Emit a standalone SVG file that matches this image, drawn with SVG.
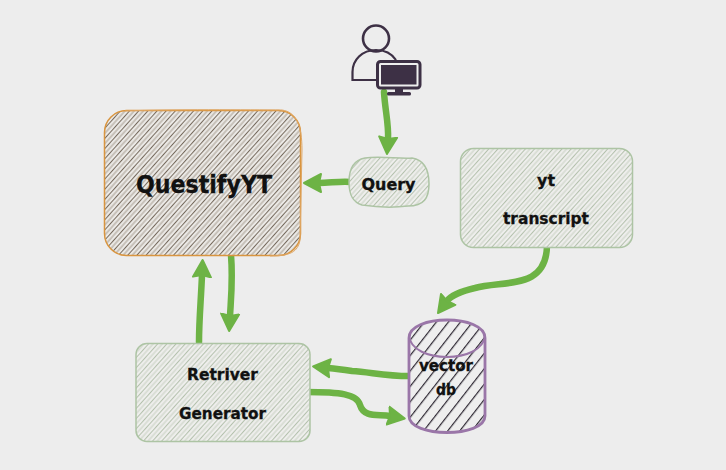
<svg xmlns="http://www.w3.org/2000/svg" width="726" height="470" viewBox="0 0 726 470">
<style>
.lbl{font-family:"DejaVu Sans","Liberation Sans",sans-serif;font-weight:700;fill:#111111;stroke:#111111;stroke-width:0.3;text-anchor:middle}
.conn{fill:none;stroke:#6db345;stroke-width:6.500;stroke-linecap:round;stroke-linejoin:round;marker-end:url(#head)}
.green{stroke:#adc4a4;stroke-width:1.500}
.ink{fill:#3d3045}
</style>
<defs>
<marker id="head" viewBox="0 0 19 22" refX="3" refY="11" markerWidth="19" markerHeight="22" markerUnits="userSpaceOnUse" orient="auto">
<path d="M1 2 L18 11 L1 20 L3 11Z" fill="#6db345" stroke="#6db345" stroke-width="2" stroke-linejoin="round"/>
</marker>
<pattern id="hBrown" width="3.400" height="6.800" patternUnits="userSpaceOnUse" patternTransform="rotate(-48)">
<rect width="3.400" height="6.800" fill="#ebe9e6"/>
<rect y="0" width="3.400" height="1" fill="#75695c"/>
<rect y="3.400" width="3.400" height="1" fill="#a79d90"/>
</pattern>
<pattern id="hGreen" width="3.400" height="6.800" patternUnits="userSpaceOnUse" patternTransform="rotate(-48)">
<rect width="3.400" height="6.800" fill="#eeeeec"/>
<rect y="0" width="3.400" height="1" fill="#b4c1ad"/>
<rect y="3.400" width="3.400" height="1" fill="#c8d1c2"/>
</pattern>
<pattern id="hDark" width="9.500" height="9.500" patternUnits="userSpaceOnUse" patternTransform="rotate(-52)">
<rect width="9.500" height="9.500" fill="#eeeeee"/>
<rect y="0" width="9.500" height="1.200" fill="#2e2833"/>
</pattern>
</defs>
<rect width="726" height="470" fill="#ededed"/>

<g id="connectors">
<path class="conn" d="M384 92 C385 110 389 125 388 139"/>
<path class="conn" d="M351 182 C340 181 330 183 319 183"/>
<path class="conn" d="M199 342 C199 320 201 300 202 275"/>
<path class="conn" d="M231 255 C233 280 231 298 230 316"/>
<path class="conn" d="M547 246 C546 290 505 280 475 288 C458 292 450 297 447 301"/>
<path class="conn" d="M409 376 C385 376 370 372 352 371 C345 370 338 369 328 368"/>
<path class="conn" d="M306 392 C340 392 357 394 360 405 C364 418 378 414 390 416"/>
</g>

<g id="user">
<circle cx="376" cy="38.500" r="13" fill="none" stroke="#3d3045" stroke-width="2.600"/>
<path d="M377 80 H352.500 V72 C352.500 60 362 50 376 50 C385 50 392 54 396 60" fill="none" stroke="#3d3045" stroke-width="2.200"/>
<rect x="377.500" y="61.500" width="42.500" height="26.500" rx="3" fill="#eeeeee" stroke="#3d3045" stroke-width="3"/>
<rect class="ink" x="381" y="65" width="35.500" height="19.500"/>
<rect class="ink" x="395" y="88" width="8" height="5"/>
<rect class="ink" x="387" y="92" width="24" height="3.500" rx="1.500"/>
</g>

<g id="questifyyt">
<rect x="104.500" y="110.500" width="196" height="145" rx="22" fill="url(#hBrown)" stroke="#d9953f" stroke-width="1.500"/>
<path d="M125 111 C170 109 250 110 282 110 C296 112 302 125 302 150 L300 240 C298 252 290 256 270 256" fill="none" stroke="#dfa765" stroke-width="1"/>
<text class="lbl" x="204" y="193" font-size="24" textLength="136" lengthAdjust="spacingAndGlyphs">QuestifyYT</text>
</g>

<g id="query">
<path class="green" d="M365 158 C380 156 400 159 412 158 C425 160 429 172 429 184 C429 198 424 206 408 206 C392 208 375 207 362 205 C352 202 349 194 349 182 C349 168 354 160 365 158Z" fill="url(#hGreen)"/>
<text class="lbl" x="388.500" y="190" font-size="15" textLength="54" lengthAdjust="spacingAndGlyphs">Query</text>
</g>

<g id="yt-transcript">
<rect class="green" x="460.500" y="148.500" width="172" height="99" rx="13" fill="url(#hGreen)"/>
<text class="lbl" x="546" y="186" font-size="15" textLength="18" lengthAdjust="spacingAndGlyphs">yt</text>
<text class="lbl" x="546" y="224" font-size="15" textLength="86" lengthAdjust="spacingAndGlyphs">transcript</text>
</g>

<g id="retriver-generator">
<rect class="green" x="136" y="343.500" width="174" height="98" rx="11" fill="url(#hGreen)"/>
<text class="lbl" x="222.500" y="380" font-size="15" textLength="71" lengthAdjust="spacingAndGlyphs">Retriver</text>
<text class="lbl" x="222.500" y="419" font-size="15" textLength="87" lengthAdjust="spacingAndGlyphs">Generator</text>
</g>

<g id="vector-db">
<path d="M409 338 C409 314 485 314 485 338 L485 416 C485 438 409 438 409 416Z" fill="url(#hDark)" stroke="#9a76a8" stroke-width="2.800"/>
<path d="M409 336 C412 364 482 364 485 336" fill="none" stroke="#9a76a8" stroke-width="2"/>
<text class="lbl" x="446" y="371" font-size="15" textLength="54" lengthAdjust="spacingAndGlyphs">vector</text>
<text class="lbl" x="446" y="395" font-size="15" textLength="20" lengthAdjust="spacingAndGlyphs">db</text>
</g>
</svg>
